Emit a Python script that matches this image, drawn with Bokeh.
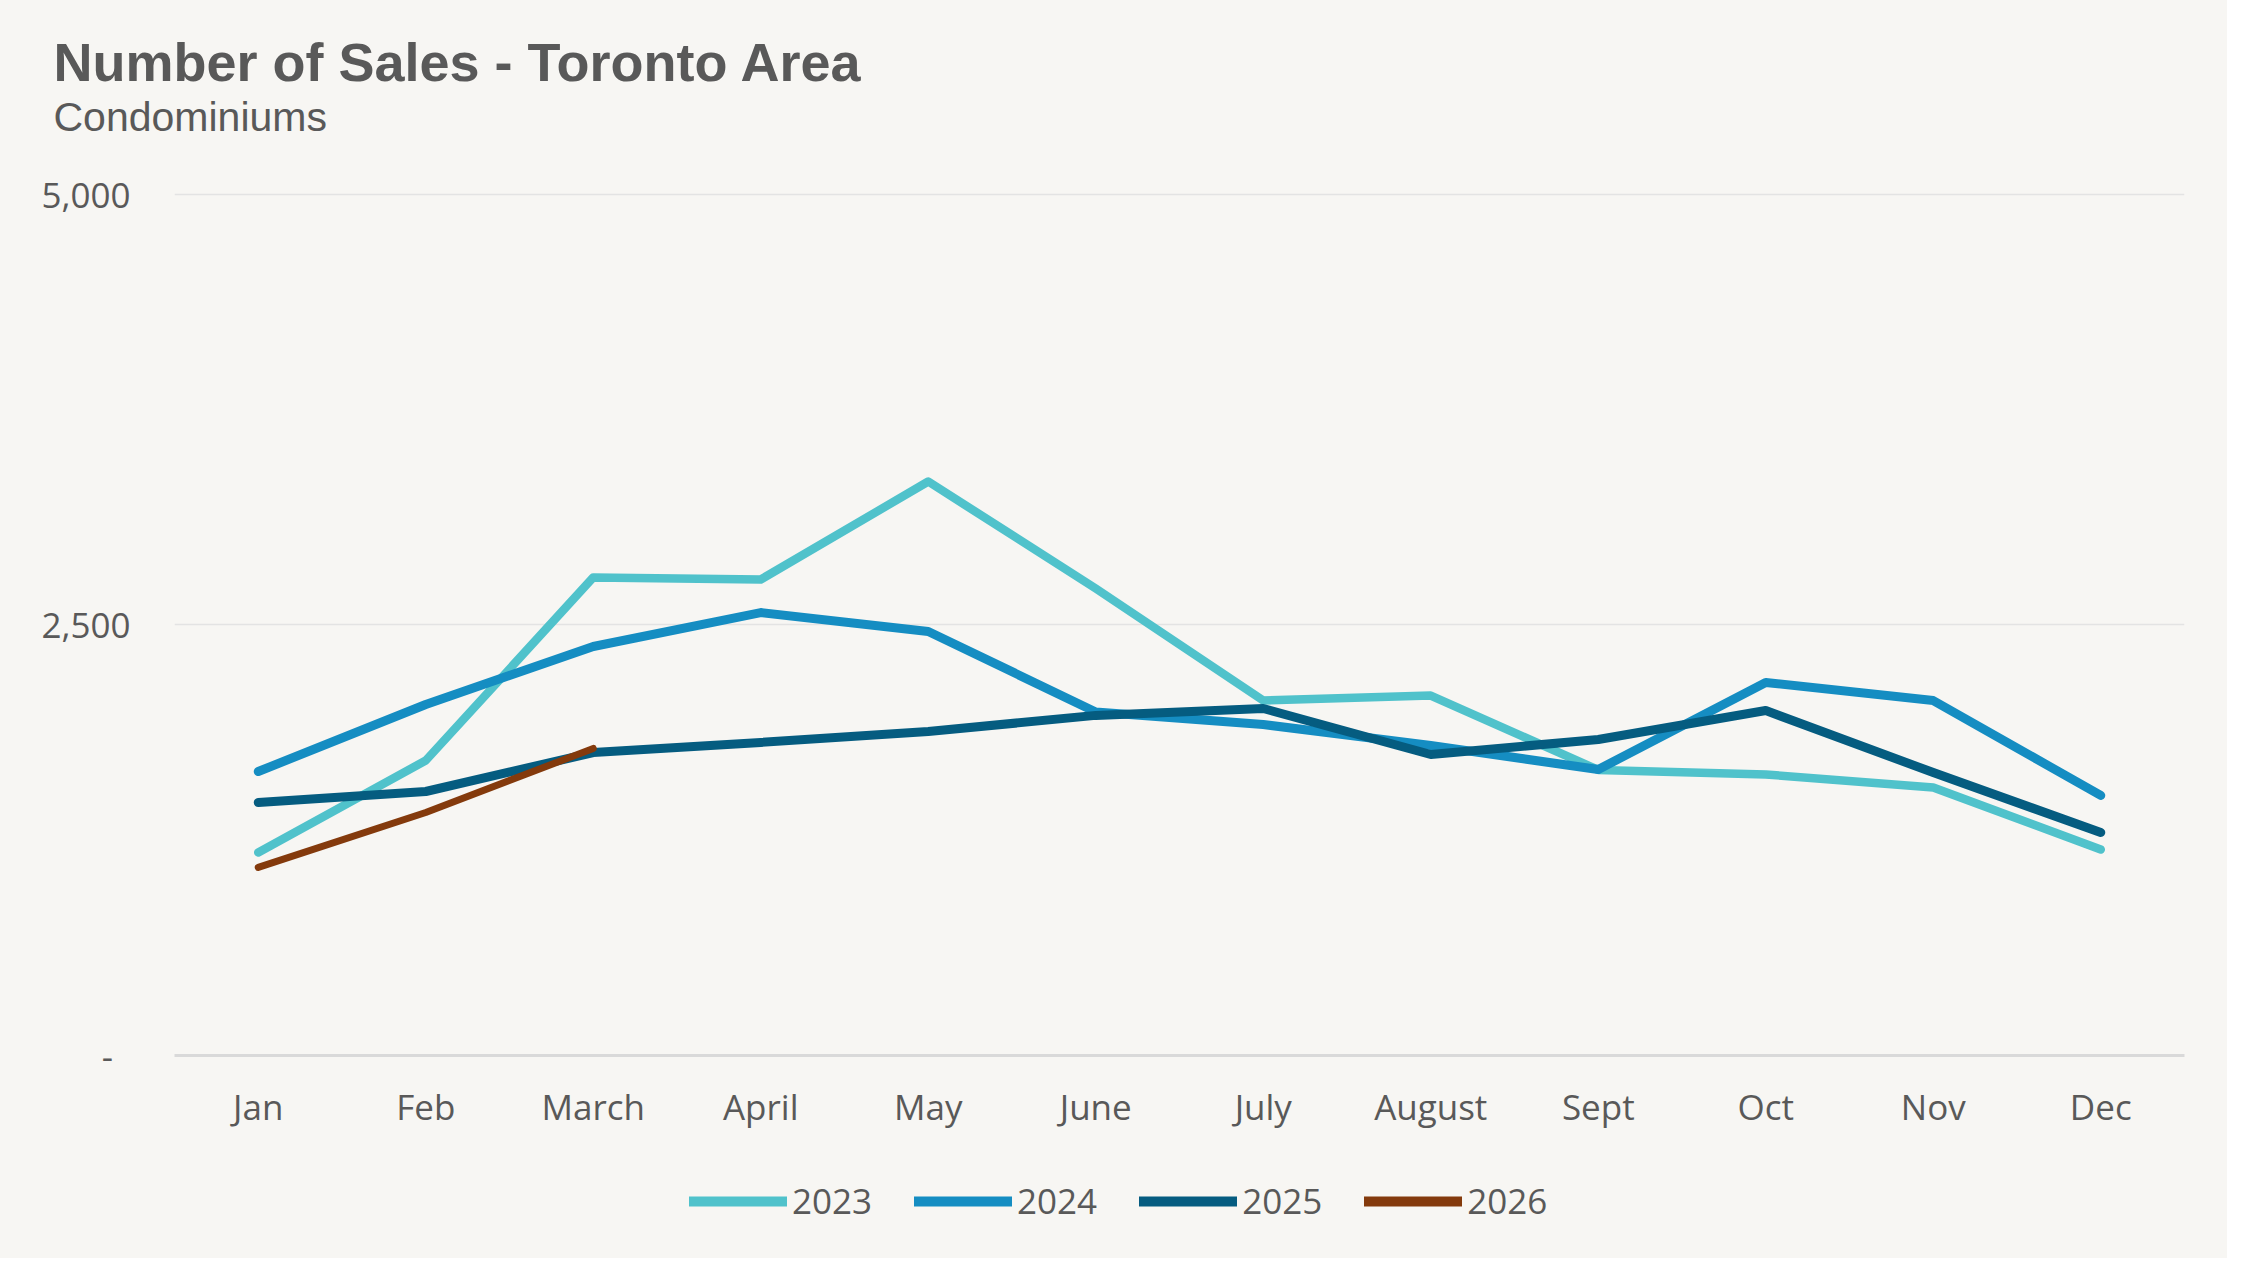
from bokeh.plotting import figure
from bokeh.layouts import column
from bokeh.models import (Title, Legend, LegendItem, CustomJSTickFormatter,
                          FixedTicker, FactorRange, Range1d)
from bokeh.embed import file_html
from bokeh.resources import INLINE

# data
months = ["Jan", "Feb", "March", "April", "May", "June",
          "July", "August", "Sept", "Oct", "Nov", "Dec"]
sales_2023 = [1179, 1713, 2776, 2764, 3333, 2712, 2061, 2090, 1658, 1632, 1556, 1196]
sales_2024 = [1649, 2038, 2375, 2572, 2462, 1995, 1922, 1800, 1661, 2166, 2061, 1510]
sales_2025 = [1469, 1533, 1759, 1818, 1881, 1975, 2015, 1748, 1835, 2003, 1643, 1295]
sales_2026 = [1092, 1411, 1783]
years = ["2023", "2024", "2025", "2026"]
y_ticks = [0, 2500, 5000]

colors = ["#50C2CB", "#158DC2", "#055C80", "#843A0C"]
widths = [8.5, 9, 9, 7]
bg = "#F7F6F3"
grey = "#595959"
W = 2227

series = [sales_2023, sales_2024, sales_2025, sales_2026]

# main chart; y range runs a little past 5,000 so the titles sit right
p = figure(width=W, height=1160,
           x_range=FactorRange(*months, range_padding=0),
           y_range=Range1d(0, 5319),
           output_backend="svg", toolbar_location=None,
           min_border_left=174, min_border_right=43,
           min_border_top=139, min_border_bottom=105,
           background_fill_color=bg, border_fill_color=bg,
           outline_line_color=None)

for vals, c, w in zip(series, colors, widths):
    p.line(x=months[:len(vals)], y=vals, line_width=w, color=c,
           line_cap="round", line_join="round")

p.xgrid.grid_line_color = None
p.ygrid.grid_line_color = "#E3E3E3"
p.ygrid.grid_line_width = 1.5

p.yaxis.ticker = FixedTicker(ticks=y_ticks)
p.yaxis.formatter = CustomJSTickFormatter(
    code='return tick == 0 ? "-\\u2002" : tick.toLocaleString("en-US");')
p.yaxis.axis_line_color = None
p.yaxis.major_tick_line_color = None
p.yaxis.minor_tick_line_color = None
p.yaxis.major_label_standoff = 38
p.yaxis.major_label_text_font = "Open Sans"
p.yaxis.major_label_text_font_size = "35px"
p.yaxis.major_label_text_color = grey

p.xaxis.axis_line_color = "#D9D9D9"
p.xaxis.axis_line_width = 3
p.xaxis.major_tick_line_color = None
p.xaxis.major_label_standoff = 21
p.xaxis.major_label_text_font = "Open Sans"
p.xaxis.major_label_text_font_size = "35px"
p.xaxis.major_label_text_color = grey

# titles: the first one added sits next to the plot
p.add_layout(Title(text="Condominiums", align="left", offset=-121,
                   text_font="Liberation Sans", text_font_style="normal",
                   text_font_size="41px", text_color=grey, standoff=0),
             "above")
p.add_layout(Title(text="Number of Sales - Toronto Area", align="left",
                   offset=-121, text_font="Liberation Sans",
                   text_font_style="bold", text_font_size="54px",
                   text_color=grey, standoff=0),
             "above")

# legend strip under the chart; its lines are hidden, they only feed the swatches
foot = figure(width=W, height=98, x_axis_type=None, y_axis_type=None,
              x_range=FactorRange(*months), y_range=Range1d(0, 5000),
              output_backend="svg", toolbar_location=None, min_border=0,
              background_fill_color=bg, border_fill_color=bg,
              outline_line_color=None)
items = []
for yr, vals, c in zip(years, series, colors):
    r = foot.line(x=months[:len(vals)], y=vals, line_width=10, color=c,
                  line_cap="round", visible=False)
    items.append(LegendItem(label=yr, renderers=[r]))
legend = Legend(items=items, location=(515, 34), orientation="horizontal",
                glyph_width=98, glyph_height=30, label_standoff=5, spacing=42,
                padding=0, margin=0, background_fill_alpha=0,
                border_line_color=None, inactive_fill_alpha=0,
                label_text_font="Open Sans", label_text_font_size="35px",
                label_text_color=grey, label_height=30)
foot.add_layout(legend)

layout = column(p, foot, spacing=0, styles={"background-color": bg})
open("out.html", "w").write(file_html(layout, INLINE))
